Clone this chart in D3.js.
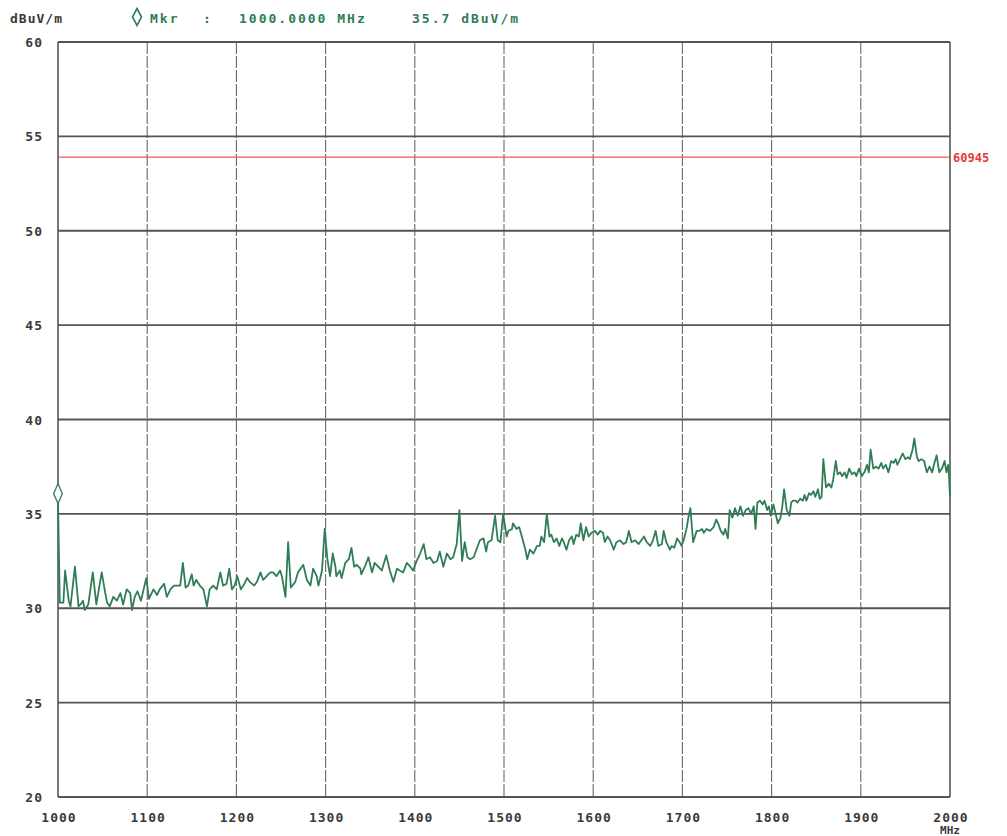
<meta charset="utf-8">
<head>
<script src="https://d3js.org/d3.v7.min.js"></script>
<style>
  body { margin: 0; background: #fff; }
  text { font-family: "DejaVu Sans Mono", monospace; font-weight: bold; }
</style>
</head>
<body>

<div id="container"></div>

<script>

// trace (MHz, dBuV/m)
var freqMHz = [
  1000,1002,1006,1008,1012,1014,1019,1023,1027,1028,1030,1034,1039,1043,1049,1053,1055,1058,1062,1066,
  1070,1073,1077,1081,1083,1086,1089,1093,1096,1099,1102,1107,1111,1114,1119,1122,1126,1130,1133,1137,
  1140,1143,1146,1150,1152,1155,1159,1163,1167,1170,1174,1178,1182,1185,1189,1192,1195,1198,1201,1205,
  1209,1212,1215,1220,1223,1227,1230,1234,1238,1241,1245,1249,1251,1255,1258,1261,1266,1269,1275,1279,
  1283,1286,1290,1292,1296,1299,1302,1305,1308,1311,1312,1316,1318,1322,1326,1329,1332,1335,1339,1340,
  1344,1348,1352,1355,1359,1363,1368,1372,1376,1380,1383,1387,1391,1395,1398,1402,1406,1410,1413,1417,
  1421,1425,1428,1432,1436,1440,1443,1447,1450,1453,1456,1459,1462,1466,1469,1473,1477,1480,1482,1486,
  1490,1493,1496,1499,1503,1505,1509,1510,1514,1517,1520,1524,1526,1529,1533,1537,1540,1542,1545,1548,
  1551,1553,1556,1559,1562,1565,1567,1570,1573,1576,1578,1581,1584,1586,1589,1592,1595,1598,1602,1605,
  1608,1611,1613,1616,1619,1623,1626,1630,1634,1637,1640,1643,1647,1651,1654,1657,1660,1664,1667,1670,
  1673,1677,1679,1682,1686,1688,1691,1694,1697,1699,1702,1705,1707,1709,1712,1716,1719,1722,1724,1727,
  1731,1735,1738,1740,1743,1746,1748,1751,1753,1756,1759,1762,1765,1768,1771,1774,1777,1780,1782,1784,
  1787,1790,1792,1795,1797,1799,1802,1804,1807,1810,1812,1814,1817,1820,1822,1824,1827,1829,1832,1835,
  1837,1839,1842,1844,1847,1849,1852,1854,1856,1858,1861,1864,1867,1869,1872,1874,1877,1879,1882,1884,
  1887,1890,1893,1895,1898,1901,1904,1907,1909,1911,1914,1917,1920,1923,1925,1928,1931,1934,1937,1939,
  1941,1944,1947,1950,1953,1955,1958,1960,1963,1965,1968,1971,1974,1977,1980,1982,1985,1988,1991,1994,
  1996,1998,1999,2000
];
var levelDb = [
  35.7,30.3,30.3,32.0,30.4,30.1,32.2,30.1,30.3,30.4,29.9,30.2,31.9,30.2,31.9,30.8,30.3,30.1,30.6,30.4,
  30.8,30.2,31.0,30.8,29.9,30.6,30.9,30.4,31.0,31.6,30.5,31.0,30.7,31.0,31.3,30.6,31.0,31.2,31.2,31.2,
  32.4,31.1,31.2,31.8,31.2,31.5,31.2,31.0,30.1,31.0,31.2,31.0,31.9,31.2,31.3,32.1,31.0,31.2,31.7,31.0,
  31.3,31.6,31.4,31.2,31.4,31.9,31.5,31.7,31.9,31.9,31.7,32.0,31.7,30.6,33.5,31.1,31.4,31.9,32.3,31.5,
  31.2,32.1,31.7,31.2,32.0,34.2,32.6,31.7,32.9,32.2,31.7,32.0,31.6,32.4,32.6,33.2,32.2,32.3,32.1,31.8,
  32.2,32.7,31.9,32.4,32.2,32.0,32.8,32.0,31.4,32.1,32.0,31.9,32.4,32.2,32.0,32.5,32.9,33.4,32.6,32.7,
  32.4,32.5,33.0,32.2,32.9,32.6,32.7,33.4,35.2,32.5,33.5,32.7,32.6,32.7,33.1,33.6,33.7,33.0,33.5,33.6,
  34.9,33.6,33.5,35.0,33.8,34.1,34.2,34.5,34.2,34.3,33.8,33.1,32.6,33.1,32.9,33.3,33.3,33.8,33.5,35.0,
  33.8,33.9,33.5,33.7,33.3,33.7,33.5,33.1,33.6,33.8,33.4,33.9,33.8,34.5,33.6,34.3,33.8,34.0,34.1,33.9,
  34.1,34.0,33.5,33.8,33.6,33.1,33.5,33.6,33.4,33.5,34.1,33.5,33.6,33.4,33.6,33.8,33.5,33.3,33.6,34.1,
  33.3,33.4,34.1,33.5,33.1,33.3,33.2,33.7,33.5,33.3,33.7,34.3,34.9,35.3,33.5,34.1,34.1,34.2,34.0,34.2,
  34.1,34.3,34.7,34.5,34.1,33.9,34.2,33.7,35.2,34.8,35.3,34.9,35.4,34.9,35.2,35.3,35.0,35.4,34.2,35.6,
  35.7,35.5,35.7,35.2,35.4,34.9,35.5,35.1,34.5,34.8,35.4,36.3,35.2,34.9,35.6,35.7,35.7,35.6,35.8,35.7,
  36.0,35.7,36.1,36.0,36.2,35.9,36.3,35.8,35.9,37.9,36.4,36.6,36.4,36.8,37.8,37.1,37.2,37.0,37.2,36.9,
  37.4,37.1,37.2,37.0,37.4,37.0,37.2,37.6,37.2,38.4,37.4,37.5,37.4,37.7,37.4,37.6,37.2,37.8,37.7,37.9,
  37.6,37.9,38.2,37.9,38.0,37.9,38.4,39.0,38.0,37.8,37.9,37.8,37.2,37.5,37.2,37.6,38.1,37.2,37.4,37.8,
  37.2,37.6,36.9,35.9
];

var yTicks = [60, 55, 50, 45, 40, 35, 30, 25, 20];
var xTicks = [1000, 1100, 1200, 1300, 1400, 1500, 1600, 1700, 1800, 1900, 2000];
var limitDb = 53.9;
var limitLabel = "60945";
var markerFreq = 1000, markerDb = 35.7;

var width = 1007, height = 836;
var plotLeft = 58, plotRight = 950, plotTop = 42, plotBottom = 797;

var svg = d3.select('#container')
  .append('svg')
  .attr('width', width)
  .attr('height', height);

var x = d3.scaleLinear().domain([1000, 2000]).range([plotLeft, plotRight]);
var y = d3.scaleLinear().domain([20, 60]).range([plotBottom, plotTop]);

var gridCol = "#555";
var traceCol = "#2f7d57";

// grid
svg.append('g').selectAll('line').data(xTicks).enter().append('line')
  .attr('x1', d => x(d)).attr('x2', d => x(d))
  .attr('y1', plotTop).attr('y2', plotBottom)
  .attr('stroke', (d, i) => (i == 0 || i == xTicks.length-1) ? gridCol : "#6a6a6a")
  .attr('stroke-width', (d, i) => (i == 0 || i == xTicks.length-1) ? 1.6 : 1.1)
  .attr('stroke-dasharray', (d, i) => (i == 0 || i == xTicks.length-1) ? null : "12,2");

svg.append('g').selectAll('line').data(yTicks).enter().append('line')
  .attr('x1', plotLeft).attr('x2', plotRight)
  .attr('y1', d => y(d)).attr('y2', d => y(d))
  .attr('stroke', gridCol)
  .attr('stroke-width', 1.8);

// y labels
svg.append('g').selectAll('text').data(yTicks).enter().append('text')
  .attr('x', 43).attr('y', d => y(d) + 5)
  .attr('text-anchor', 'end')
  .attr('font-size', 13)
  .attr('letter-spacing', 1)
  .attr('fill', '#3a3a3a')
  .text(d => d);

// x labels
svg.append('g').selectAll('text').data(xTicks).enter().append('text')
  .attr('x', d => x(d) + 1).attr('y', 822)
  .attr('text-anchor', 'middle')
  .attr('font-size', 13)
  .attr('letter-spacing', 1)
  .attr('fill', '#3a3a3a')
  .text(d => d);

svg.append('text')
  .attr('x', x(2000)).attr('y', 834)
  .attr('text-anchor', 'middle')
  .attr('font-size', 11)
  .attr('fill', '#3a3a3a')
  .text("MHz");

// header
svg.append('text')
  .attr('x', 10).attr('y', 23)
  .attr('font-size', 13)
  .attr('letter-spacing', 1)
  .attr('fill', '#3a3a3a')
  .text("dBuV/m");

var hdr = svg.append('g').attr('fill', traceCol).attr('font-size', 13).attr('letter-spacing', 2);
hdr.append('path')
  .attr('d', d3.symbol().type(d3.symbolDiamond).size(70)())
  .attr('transform', 'translate(137,17) scale(1,1.1)')
  .attr('fill', 'none').attr('stroke', traceCol).attr('stroke-width', 1.6);
hdr.append('text').attr('x', 150).attr('y', 23).text("Mkr");
hdr.append('text').attr('x', 203).attr('y', 23).text(":");
hdr.append('text').attr('x', 239).attr('y', 23).text(markerFreq.toFixed(4) + " MHz");
hdr.append('text').attr('x', 412).attr('y', 23).text(markerDb.toFixed(1) + " dBuV/m");

// limit line
svg.append('line')
  .attr('x1', plotLeft).attr('x2', plotRight)
  .attr('y1', y(limitDb)).attr('y2', y(limitDb))
  .attr('stroke', '#ee5a5a').attr('stroke-width', 1.2);
svg.append('text')
  .attr('x', plotRight + 3).attr('y', y(limitDb) + 5)
  .attr('font-size', 12)
  .attr('fill', '#e53a3a')
  .text(limitLabel);

// trace
var line = d3.line().x((d, i) => x(freqMHz[i])).y(d => y(d));
svg.append('path')
  .datum(levelDb)
  .attr('d', line)
  .attr('fill', 'none')
  .attr('stroke', traceCol)
  .attr('stroke-width', 1.8)
  .attr('stroke-linejoin', 'round');

// marker
svg.append('path')
  .attr('d', d3.symbol().type(d3.symbolDiamond).size(80)())
  .attr('transform', 'translate(' + x(markerFreq) + ',' + (y(markerDb) - 7) + ') scale(0.9,1.2)')
  .attr('fill', '#fff').attr('stroke', traceCol).attr('stroke-width', 1.4);

</script>

</body>
